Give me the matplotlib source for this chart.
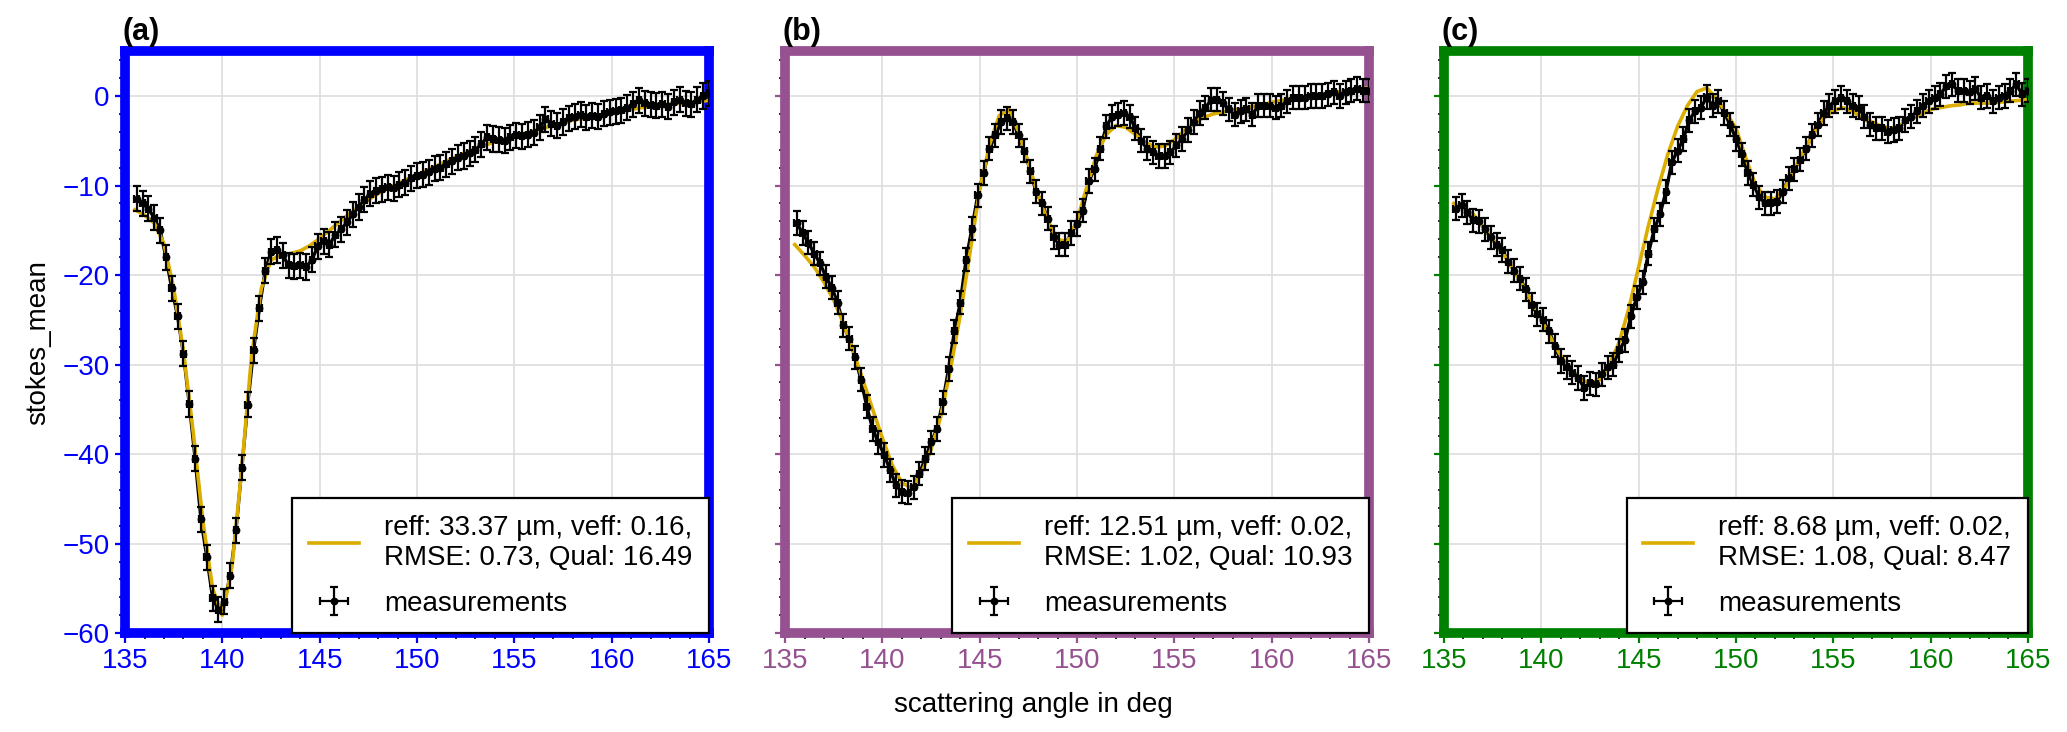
import matplotlib
matplotlib.use("Agg")
import matplotlib.pyplot as plt
from matplotlib.ticker import MultipleLocator
import numpy as np

plt.rcParams['font.family'] = ['Liberation Sans', 'DejaVu Sans']
plt.rcParams['font.size'] = 10

# measurement grid (deg) and fit grid (deg)
angle_meas = np.round(np.arange(135.6, 165.01, 0.3), 1)
angle_fit = np.round(np.arange(135.5, 165.01, 0.5), 1)

meas_a = [-11.5, -12.0, -12.6, -13.6, -15.0, -18.0, -21.5, -24.6, -28.8, -34.4,
          -40.5, -47.3, -51.5, -56.1, -57.4, -56.5, -53.6, -48.5, -41.5, -34.5,
          -28.4, -23.7, -19.5, -17.4, -17.2, -17.8, -18.9, -19.0, -18.9, -19.1,
          -18.3, -16.8, -16.2, -16.6, -15.5, -14.9, -14.1, -13.2, -12.4, -11.6,
          -10.9, -10.6, -10.4, -10.2, -10.3, -9.9, -9.7, -9.2, -8.9, -8.8,
          -8.5, -8.1, -8.0, -7.6, -7.3, -6.9, -6.7, -6.4, -6.0, -5.4,
          -4.6, -4.8, -4.9, -5.0, -4.6, -4.4, -4.5, -4.3, -4.1, -3.5,
          -2.6, -3.1, -3.3, -2.9, -2.5, -2.3, -2.1, -2.4, -2.2, -2.3,
          -2.0, -1.8, -1.7, -1.6, -1.3, -0.9, -0.5, -0.8, -1.0, -1.1,
          -0.9, -1.2, -0.7, -0.4, -0.8, -0.9, -0.4, 0.0, 0.3]
fit_a = [-12.7, -13.3, -14.2, -16.5, -21.5, -28.5, -37.5, -47.5, -55.0, -58.0,
         -52.5, -41.5, -29.0, -21.5, -18.3, -17.8, -17.6, -17.3, -16.7, -15.9,
         -15.0, -14.1, -13.2, -12.4, -11.6, -10.9, -10.3, -9.8, -9.3, -8.8,
         -8.3, -7.8, -7.3, -6.8, -6.3, -5.9, -5.5, -5.1, -4.8, -4.5,
         -4.2, -3.9, -3.6, -3.3, -3.0, -2.7, -2.5, -2.3, -2.1, -1.9,
         -1.7, -1.5, -1.3, -1.2, -1.0, -0.9, -0.8, -0.7, -0.6, -0.5]

meas_b = [-14.2, -15.3, -16.4, -17.6, -18.7, -20.2, -21.4, -23.1, -25.6, -27.1,
          -29.2, -31.7, -34.7, -37.2, -38.7, -40.1, -41.8, -43.5, -44.2, -44.3,
          -43.7, -42.2, -40.5, -38.7, -37.2, -34.2, -30.5, -26.3, -23.1, -18.3,
          -14.8, -11.1, -8.6, -5.9, -4.4, -2.9, -2.5, -2.9, -4.4, -6.1,
          -8.4, -10.7, -12.0, -13.7, -15.8, -16.6, -16.6, -15.3, -14.3, -12.8,
          -9.5, -8.2, -5.9, -3.4, -2.3, -2.1, -1.9, -2.3, -3.6, -5.0,
          -5.9, -6.3, -6.7, -6.7, -6.3, -5.5, -4.8, -3.8, -2.9, -1.9,
          -1.3, -0.4, -0.4, -0.8, -1.5, -2.1, -1.7, -1.5, -2.1, -1.1,
          -1.1, -1.1, -1.3, -1.1, -0.6, -0.2, -0.2, -0.2, 0.0, 0.0,
          0.0, 0.2, 0.4, 0.0, 0.4, 0.6, 0.8, 0.6, 0.6]
fit_b = [-16.6, -17.8, -19.1, -20.8, -22.8, -25.4, -28.5, -31.7, -35.0, -38.2,
         -41.2, -43.2, -43.8, -42.2, -39.5, -35.8, -30.5, -24.5, -17.5, -10.5,
         -5.5, -2.2, -1.5, -4.0, -7.5, -11.0, -14.0, -16.0, -16.3, -13.9,
         -10.2, -6.6, -4.3, -3.3, -3.5, -4.3, -5.2, -5.7, -5.6, -4.9,
         -3.9, -3.0, -2.4, -2.0, -1.8, -1.6, -1.4, -1.2, -1.0, -0.7,
         -0.5, -0.3, -0.1, 0.0, 0.2, 0.3, 0.5, 0.6, 0.8, 0.9]

meas_c = [-12.6, -12.2, -13.0, -13.9, -14.0, -14.9, -15.8, -16.6, -17.2, -18.5,
          -19.5, -20.4, -21.6, -23.3, -24.4, -25.0, -26.3, -27.9, -29.6, -30.3,
          -30.9, -31.5, -32.6, -32.1, -32.2, -31.1, -30.3, -30.0, -28.4, -27.3,
          -24.6, -22.5, -20.8, -17.6, -14.9, -13.2, -10.7, -7.4, -6.1, -4.8,
          -2.7, -1.7, -1.3, -0.1, -1.1, -0.6, -1.9, -3.2, -4.8, -6.5,
          -8.6, -9.9, -11.3, -12.0, -12.0, -11.8, -10.7, -9.2, -8.2, -7.1,
          -5.9, -4.4, -3.2, -1.9, -1.1, -0.6, -0.2, -0.6, -1.1, -1.3,
          -2.3, -3.2, -3.6, -3.6, -4.0, -3.8, -3.6, -2.7, -2.3, -1.7,
          -1.1, -0.6, -0.2, 0.2, 1.1, 1.3, 0.6, 0.6, 0.4, 0.8,
          -0.2, 0.0, -0.6, -0.2, 0.0, 0.6, 1.3, 0.2, 0.6]
fit_c = [-12.0, -12.6, -13.2, -14.5, -16.0, -17.5, -19.1, -21.0, -22.9, -25.0,
         -27.1, -29.0, -30.5, -31.6, -32.1, -31.7, -30.0, -27.5, -23.7, -19.1,
         -14.5, -10.3, -6.5, -3.4, -1.1, 0.5, 0.9, -0.3, -1.9, -3.6,
         -6.9, -9.9, -11.3, -11.5, -10.3, -8.2, -6.1, -4.2, -2.5, -1.6,
         -1.3, -1.7, -2.5, -2.9, -3.4, -3.6, -3.2, -2.5, -2.1, -1.5,
         -1.3, -1.1, -1.0, -0.8, -0.8, -0.8, -0.7, -0.6, -0.5, -0.4]

meas_err = [1.4, 1.3, 1.3]
angle_err = 0.12

panel_tags = ['(a)', '(b)', '(c)']
panel_colors = ['#0000ff', '#955190', '#008000']
fit_labels = ['reff: 33.37 µm, veff: 0.16,\nRMSE: 0.73, Qual: 16.49',
              'reff: 12.51 µm, veff: 0.02,\nRMSE: 1.02, Qual: 10.93',
              'reff: 8.68 µm, veff: 0.02,\nRMSE: 1.08, Qual: 8.47']

fit_color = '#dbad00'

fig = plt.figure(figsize=(10.335, 3.66), dpi=200)
lefts = [0.0605, 0.3798, 0.6986]
axes = [fig.add_axes([l, 0.135, 0.2825, 0.795]) for l in lefts]

all_meas = [meas_a, meas_b, meas_c]
all_fit = [fit_a, fit_b, fit_c]

for i, ax in enumerate(axes):
    col = panel_colors[i]
    # connecting line, then the error bars + dots
    ax.plot(angle_meas, all_meas[i], color='black', lw=1.2, zorder=2)
    eb = ax.errorbar(angle_meas, all_meas[i], yerr=meas_err[i], xerr=angle_err,
                     fmt='o', ms=1.8, color='black', elinewidth=0.8,
                     capsize=1.6, capthick=0.8, zorder=4, label='measurements')
    fl, = ax.plot(angle_fit, all_fit[i], color=fit_color, lw=1.3, zorder=3,
                  label=fit_labels[i])

    ax.set_xlim(135, 165)
    ax.set_ylim(-60, 5)
    ax.xaxis.set_major_locator(MultipleLocator(5))
    ax.xaxis.set_minor_locator(MultipleLocator(1))
    ax.yaxis.set_major_locator(MultipleLocator(10))
    ax.yaxis.set_minor_locator(MultipleLocator(2))
    ax.grid(True, which='major', color='#dddddd', lw=0.6, zorder=0)
    ax.set_axisbelow(True)

    for sp in ax.spines.values():
        sp.set_color(col)
        sp.set_linewidth(3.5)
    ax.tick_params(which='major', direction='out', length=3.5, width=0.8,
                   colors=col, labelsize=10, pad=2)
    ax.tick_params(which='minor', direction='out', length=2, width=0.6,
                   color='black')
    if i > 0:
        ax.tick_params(axis='y', labelleft=False)

    ax.set_title(panel_tags[i], loc='left', fontweight='bold', fontsize=11,
                 pad=4, x=-0.005)

    leg = ax.legend(handles=[fl, eb], loc='lower right', borderaxespad=0,
                    fontsize=10, fancybox=False, framealpha=1,
                    edgecolor='black', handlelength=1.8, handletextpad=0.9,
                    labelspacing=0.7, borderpad=0.6)
    leg.get_frame().set_linewidth(0.8)
    leg.set_zorder(5)

axes[0].set_ylabel('stokes_mean', fontsize=10, labelpad=4)
fig.text(0.5, 0.037, 'scattering angle in deg', ha='center', va='center',
         fontsize=10)

fig.savefig('out.png', dpi=200)
